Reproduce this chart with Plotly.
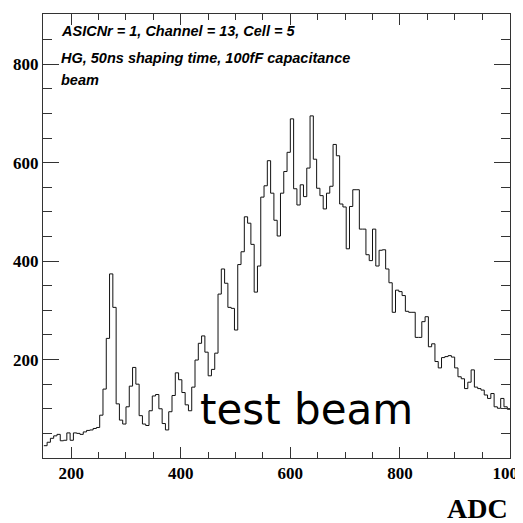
import plotly.graph_objects as go

# histogram: 142 bins of 6 ADC starting at 150
bin_start = 150
bin_width = 6
counts = [25, 32, 40, 45, 48, 35, 36, 51, 36, 51, 50, 48, 53, 56, 57, 60, 62,
          87, 140, 243, 374, 306, 110, 77, 69, 104, 146,
          184, 150, 86, 69, 66, 96, 126, 129, 100, 70,
          57, 94, 127, 173, 159, 133, 108, 96, 144, 199,
          233, 248, 215, 167, 180, 213, 333, 384, 355, 306,
          304, 260, 393, 419, 490, 477, 434, 337, 390, 530,
          553, 604, 538, 483, 451, 538, 582, 621, 689, 547,
          514, 555, 531, 589, 695, 607, 548, 533, 506, 538,
          552, 637, 614, 516, 510, 425, 511, 545, 545, 465,
          465, 413, 401, 465, 390, 422, 423, 384, 356, 296,
          341, 338, 330, 298, 296, 296, 245, 245, 277, 287,
          226, 232, 196, 183, 204, 206, 208, 205, 183, 165,
          161, 141, 154, 179, 144, 141, 138, 128, 121, 131,
          104, 101, 121, 104, 99]

x_ticks = [200, 400, 600, 800, 1000]
y_ticks = [200, 400, 600, 800]
info_lines = ["ASICNr = 1, Channel = 13, Cell = 5",
              "HG, 50ns shaping time, 100fF capacitance",
              "beam"]

edges = [bin_start + bin_width * i for i in range(len(counts) + 1)]
xs = edges
ys = counts + [counts[-1]]

fig = go.Figure(go.Scatter(
    x=xs, y=ys, mode="lines", line_shape="hv",
    line=dict(color="#111111", width=1), hoverinfo="skip",
))

serif = "Liberation Serif"
sans = "Liberation Sans"

# the page body has an 8px margin, so the figure is 8px smaller and the
# left/top margins are 8px less than in the picture
fig.update_layout(
    width=515, height=515,
    margin=dict(l=35, r=13, t=6, b=65),
    paper_bgcolor="white", plot_bgcolor="white",
    showlegend=False,
)
fig.update_xaxes(
    range=[148.5, 1001], showgrid=False, zeroline=False,
    showline=True, linecolor="#333333", linewidth=1, mirror="allticks",
    ticks="inside", ticklen=11, tickcolor="#333333",
    tickmode="array", tickvals=x_ticks, ticktext=[str(v) for v in x_ticks],
    minor=dict(dtick=50, tick0=0, ticks="inside", ticklen=6, tickcolor="#333333"),
    tickfont=dict(family=serif, size=17, color="black", weight="bold"),
    ticklabeloverflow="allow",
    automargin=False,
)
fig.update_yaxes(
    range=[0, 902], showgrid=False, zeroline=False,
    showline=True, linecolor="#333333", linewidth=1, mirror="allticks",
    ticks="inside", ticklen=16, tickcolor="#333333",
    tickmode="array", tickvals=y_ticks, ticktext=[str(v) for v in y_ticks],
    minor=dict(dtick=50, tick0=0, ticks="inside", ticklen=9, tickcolor="#333333"),
    tickfont=dict(family=serif, size=17, color="black", weight="bold"),
    automargin=False,
)

# info text in the top-left corner
line_y = [0.961, 0.901, 0.851]
for txt, yy in zip(info_lines, line_y):
    fig.add_annotation(
        text=txt, xref="paper", yref="paper", x=0.034, y=yy,
        xanchor="left", yanchor="middle", showarrow=False,
        font=dict(family=sans, size=14.5, color="black", style="italic", weight="bold"),
    )

fig.add_annotation(
    text="test beam", xref="paper", yref="paper", x=0.332, y=0.109,
    xanchor="left", yanchor="middle", showarrow=False,
    font=dict(family="DejaVu Sans", size=42, color="black"),
)
fig.add_annotation(
    text="ADC", xref="paper", yref="paper", x=1.0, y=-0.113,
    xanchor="right", yanchor="middle", showarrow=False,
    font=dict(family=serif, size=28, color="black", weight="bold"),
)

fig.write_html("out.html")
